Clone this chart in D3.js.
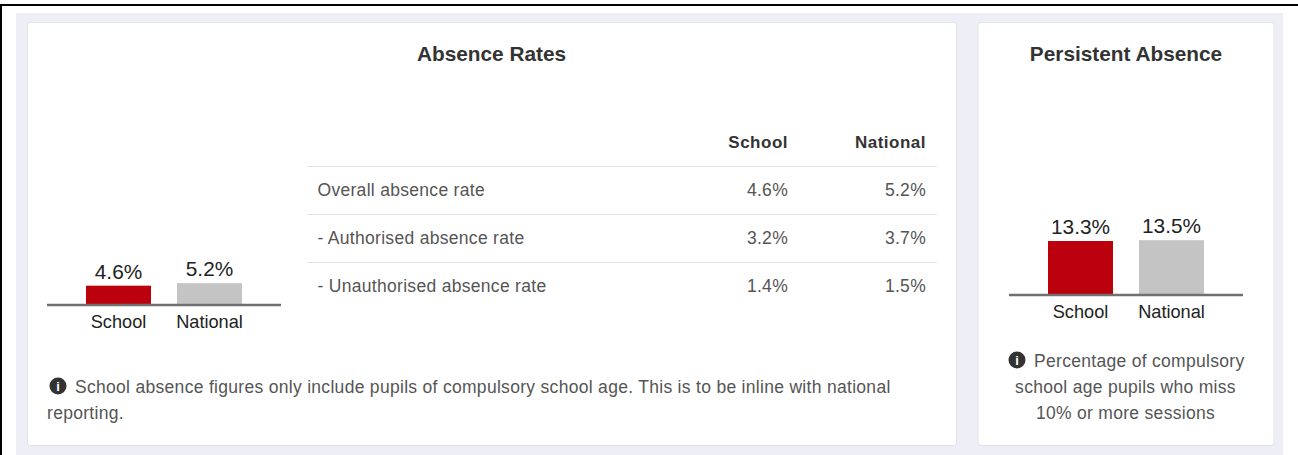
<!DOCTYPE html>
<html>
<head>
<meta charset="utf-8">
<script src="https://cdn.jsdelivr.net/npm/d3@7"></script>
<style>
  html, body { margin: 0; padding: 0; background: #fff; overflow: hidden; }
  text { font-family: "Liberation Sans", Arial, sans-serif; }
</style>
</head>
<body>
<div id="chart-area"></div>
<script>
var width = 1298;
var height = 455;

var groups = ["School", "National"];
var colors = ["#bb000e", "#c4c4c4"];

var absenceValues = [4.6, 5.2];
var persistentValues = [13.3, 13.5];

var tableColumns = ["School", "National"];
var tableRows = ["Overall absence rate", "- Authorised absence rate", "- Unauthorised absence rate"];
var tableSchool = ["4.6%", "3.2%", "1.4%"];
var tableNational = ["5.2%", "3.7%", "1.5%"];

var absenceNote = ["School absence figures only include pupils of compulsory school age. This is to be inline with national", "reporting."];
var persistentNote = ["Percentage of compulsory", "school age pupils who miss", "10% or more sessions"];

var svg = d3.select("#chart-area")
    .append("svg")
        .attr("width", width)
        .attr("height", height)
        .style("display", "block");

// page frame and background
svg.append("rect").attr("x", 16).attr("y", 13).attr("width", 1267).attr("height", 442).attr("fill", "#eeeef6");
svg.append("rect").attr("x", 0).attr("y", 4).attr("width", width).attr("height", 2).attr("fill", "#000");
svg.append("rect").attr("x", 0).attr("y", 4).attr("width", 2).attr("height", height - 4).attr("fill", "#000");

function panel(x, y, w, h) {
    svg.append("rect")
        .attr("x", x).attr("y", y)
        .attr("width", w).attr("height", h)
        .attr("rx", 3)
        .attr("fill", "#fff")
        .attr("stroke", "#e3e3e6");
}
panel(27.5, 22.5, 929, 423);
panel(978, 22.5, 296, 423);

function title(x, label) {
    svg.append("text")
        .attr("x", x).attr("y", 61)
        .attr("text-anchor", "middle")
        .attr("font-size", "20.8px")
        .attr("font-weight", "bold")
        .attr("fill", "#333")
        .text(label);
}
title(491.5, "Absence Rates");
title(1126, "Persistent Absence");

// one small bar chart
function barChart(left, baseline, pxPerUnit, values) {
    var g = svg.append("g").attr("transform", "translate(" + left + ", " + baseline + ")");

    var x = d3.scaleBand()
        .domain(groups)
        .range([0, 234])
        .paddingInner(0.2857)
        .paddingOuter(0.4286);

    var y = d3.scaleLinear().domain([0, 20]).range([0, -20 * pxPerUnit]);

    g.selectAll("rect")
        .data(values)
        .enter()
        .append("rect")
            .attr("x", (d, i) => { return x(groups[i]); })
            .attr("y", (d) => { return y(d); })
            .attr("width", x.bandwidth())
            .attr("height", (d) => { return -y(d); })
            .attr("fill", (d, i) => { return colors[i]; });

    g.selectAll(".value")
        .data(values)
        .enter()
        .append("text")
            .attr("class", "value")
            .attr("x", (d, i) => { return x(groups[i]) + x.bandwidth() / 2; })
            .attr("y", (d) => { return y(d) - 7; })
            .attr("text-anchor", "middle")
            .attr("font-size", "20.8px")
            .attr("fill", "#222")
            .text((d) => { return d + "%"; });

    var axis = d3.axisBottom(x).tickSize(0).tickPadding(10).offset(0);
    var ax = g.append("g").attr("class", "bottom axis").call(axis);
    ax.select(".domain").attr("stroke", "#707070").attr("stroke-width", 2.5);
    ax.selectAll("text")
        .attr("font-size", "18.2px")
        .attr("font-family", "Liberation Sans")
        .attr("fill", "#222");
}
barChart(47, 305, 4.2, absenceValues);
barChart(1009, 295, 4.06, persistentValues);

// table
var rowY = d3.scalePoint().domain(tableRows).range([190.5, 286.5]);

svg.selectAll(".head")
    .data(tableColumns)
    .enter()
    .append("text")
        .attr("class", "head")
        .attr("x", (d, i) => { return [788, 926][i]; })
        .attr("y", 148)
        .attr("text-anchor", "end")
        .attr("font-size", "17px")
        .attr("font-weight", "bold")
        .attr("letter-spacing", "0.5px")
        .attr("fill", "#333")
        .text((d) => { return d; });

svg.selectAll(".rule")
    .data(tableRows)
    .enter()
    .append("line")
        .attr("class", "rule")
        .attr("x1", 307).attr("x2", 937)
        .attr("y1", (d) => { return rowY(d) - 24; })
        .attr("y2", (d) => { return rowY(d) - 24; })
        .attr("stroke", "#e2e2e2");

tableRows.forEach((r, i) => {
    var base = rowY(r) + 5.5;
    var cells = [[r, 317.5, "start"], [tableSchool[i], 788, "end"], [tableNational[i], 926, "end"]];
    cells.forEach((c) => {
        svg.append("text")
            .attr("x", c[1]).attr("y", base)
            .attr("text-anchor", c[2])
            .attr("font-size", "17.5px")
            .attr("letter-spacing", "0.3px")
            .attr("fill", "#555")
            .text(c[0]);
    });
});

// notes
function infoIcon(cx, cy) {
    svg.append("circle").attr("cx", cx).attr("cy", cy).attr("r", 8.5).attr("fill", "#333");
    svg.append("text")
        .attr("x", cx).attr("y", cy + 4.5)
        .attr("text-anchor", "middle")
        .attr("font-size", "13px")
        .attr("font-weight", "bold")
        .attr("fill", "#fff")
        .text("i");
}

function noteText(x, y, anchor, label) {
    svg.append("text")
        .attr("x", x).attr("y", y)
        .attr("text-anchor", anchor)
        .attr("font-size", "17.5px")
        .attr("letter-spacing", "0.3px")
        .attr("fill", "#555")
        .text(label);
}

infoIcon(58, 386);
noteText(75, 393, "start", absenceNote[0]);
noteText(47, 419, "start", absenceNote[1]);

infoIcon(1017, 360);
noteText(1034, 367, "start", persistentNote[0]);
noteText(1125.5, 393, "middle", persistentNote[1]);
noteText(1125.5, 419, "middle", persistentNote[2]);
</script>
</body>
</html>
